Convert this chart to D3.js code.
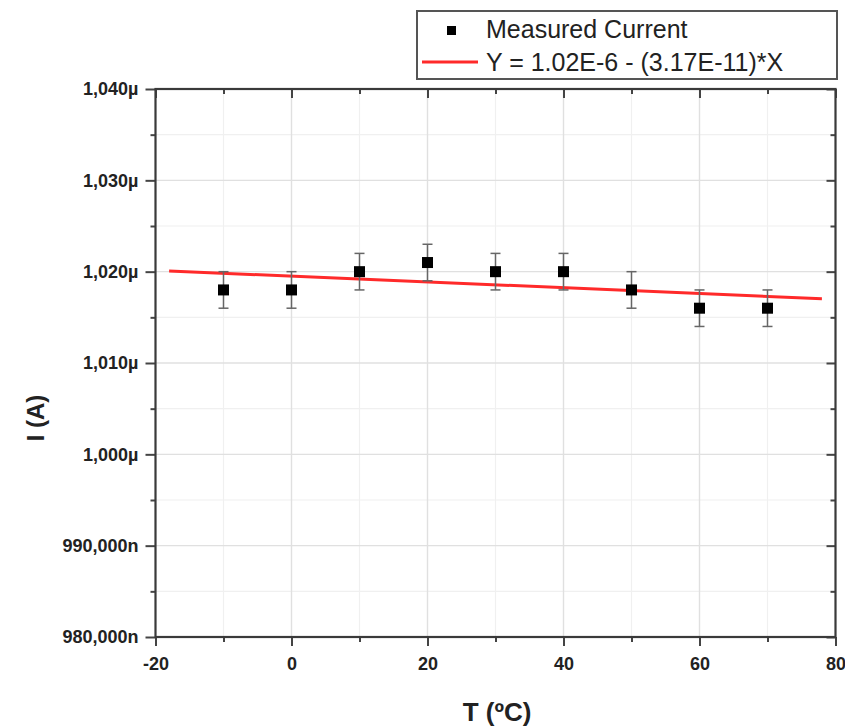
<!DOCTYPE html>
<html>
<head>
<meta charset="utf-8">
<script src="https://cdn.jsdelivr.net/npm/d3@7/dist/d3.min.js"></script>
<style>
  html, body { margin: 0; padding: 0; background: #fff; }
  svg { display: block; font-family: "Liberation Sans", Arial, sans-serif; }
</style>
</head>
<body>
<svg id="chart" width="845" height="726"></svg>
<script>
// Measured current vs temperature
const tempC = [-10, 0, 10, 20, 30, 40, 50, 60, 70];
const currentA = [1.018e-6, 1.018e-6, 1.020e-6, 1.021e-6, 1.020e-6, 1.020e-6, 1.018e-6, 1.016e-6, 1.016e-6];
const errorA = [2e-9, 2e-9, 2e-9, 2e-9, 2e-9, 2e-9, 2e-9, 2e-9, 2e-9];

// Linear fit Y = a + b*X
const fitIntercept = 1.01951e-6;
const fitSlope = -3.17e-11;
const fitRange = [-18, 78];

// Axes
const xMajor = [-20, 0, 20, 40, 60, 80];
const xMinor = [-10, 10, 30, 50, 70];
const yMajor = [0.98e-6, 0.99e-6, 1.00e-6, 1.01e-6, 1.02e-6, 1.03e-6, 1.04e-6];
const yMajorLabels = ["980,000n", "990,000n", "1,000µ", "1,010µ", "1,020µ", "1,030µ", "1,040µ"];
const yMinor = [0.985e-6, 0.995e-6, 1.005e-6, 1.015e-6, 1.025e-6, 1.035e-6];

const plot = { left: 155.5, right: 835.5, top: 89, bottom: 637 };

const svg = d3.select("#chart");
const x = d3.scaleLinear().domain([-20, 80]).range([plot.left, plot.right]);
const y = d3.scaleLinear().domain([0.98e-6, 1.04e-6]).range([plot.bottom, plot.top]);

// grid lines
const grid = svg.append("g");
grid.selectAll("line.vmin").data(xMinor).join("line")
  .attr("x1", d => x(d)).attr("x2", d => x(d))
  .attr("y1", plot.top).attr("y2", plot.bottom)
  .attr("stroke", "#f0f0f0").attr("stroke-width", 1.2);
grid.selectAll("line.hmin").data(yMinor).join("line")
  .attr("y1", d => y(d)).attr("y2", d => y(d))
  .attr("x1", plot.left).attr("x2", plot.right)
  .attr("stroke", "#f0f0f0").attr("stroke-width", 1.2);
grid.selectAll("line.vmaj").data(xMajor.slice(1, -1)).join("line")
  .attr("x1", d => x(d)).attr("x2", d => x(d))
  .attr("y1", plot.top).attr("y2", plot.bottom)
  .attr("stroke", "#e0e0e0").attr("stroke-width", 1.4);
grid.selectAll("line.hmaj").data(yMajor.slice(1, -1)).join("line")
  .attr("y1", d => y(d)).attr("y2", d => y(d))
  .attr("x1", plot.left).attr("x2", plot.right)
  .attr("stroke", "#e0e0e0").attr("stroke-width", 1.4);

function styleAxis(g) {
  g.select(".domain").remove();
  g.selectAll(".tick line").attr("stroke", "#444").attr("stroke-width", 2);
  g.selectAll(".tick text")
    .attr("fill", "#222")
    .style("font-size", "18px")
    .style("font-weight", "bold");
}

// bottom axis (outward ticks)
svg.append("g").attr("transform", `translate(0,${plot.bottom})`)
  .call(d3.axisBottom(x).tickValues(xMajor).tickSize(9).tickPadding(11).tickFormat(d => String(d)))
  .call(styleAxis);
svg.append("g").attr("transform", `translate(0,${plot.bottom})`)
  .call(d3.axisBottom(x).tickValues(xMinor).tickSize(5).tickFormat(""))
  .call(styleAxis);

// left axis (outward ticks)
svg.append("g").attr("transform", `translate(${plot.left},0)`)
  .call(d3.axisLeft(y).tickValues(yMajor).tickSize(10).tickPadding(7)
    .tickFormat((d, i) => yMajorLabels[i]))
  .call(styleAxis);
svg.append("g").attr("transform", `translate(${plot.left},0)`)
  .call(d3.axisLeft(y).tickValues(yMinor).tickSize(5).tickFormat(""))
  .call(styleAxis);

// top axis (inward ticks)
svg.append("g").attr("transform", `translate(0,${plot.top})`)
  .call(d3.axisBottom(x).tickValues(xMajor).tickSize(9).tickFormat(""))
  .call(styleAxis);
svg.append("g").attr("transform", `translate(0,${plot.top})`)
  .call(d3.axisBottom(x).tickValues(xMinor).tickSize(5).tickFormat(""))
  .call(styleAxis);

// right axis (inward ticks)
svg.append("g").attr("transform", `translate(${plot.right},0)`)
  .call(d3.axisLeft(y).tickValues(yMajor).tickSize(9).tickFormat(""))
  .call(styleAxis);
svg.append("g").attr("transform", `translate(${plot.right},0)`)
  .call(d3.axisLeft(y).tickValues(yMinor).tickSize(5).tickFormat(""))
  .call(styleAxis);

// frame
svg.append("rect")
  .attr("x", plot.left).attr("y", plot.top)
  .attr("width", plot.right - plot.left).attr("height", plot.bottom - plot.top)
  .attr("fill", "none").attr("stroke", "#3a3a3a").attr("stroke-width", 2.2);

// fit line
const fitLine = d3.line().x(d => x(d)).y(d => y(fitIntercept + fitSlope * d));
svg.append("path").datum(fitRange)
  .attr("d", fitLine)
  .attr("fill", "none").attr("stroke", "#ff2a2a").attr("stroke-width", 3);

// error bars
const pts = tempC.map((t, i) => ({ t, v: currentA[i], e: errorA[i] }));
const eb = svg.append("g").attr("stroke", "#666").attr("stroke-width", 1.5);
eb.selectAll("line.stem").data(pts).join("line")
  .attr("x1", d => x(d.t)).attr("x2", d => x(d.t))
  .attr("y1", d => y(d.v - d.e)).attr("y2", d => y(d.v + d.e));
eb.selectAll("line.capHi").data(pts).join("line")
  .attr("x1", d => x(d.t) - 5).attr("x2", d => x(d.t) + 5)
  .attr("y1", d => y(d.v + d.e)).attr("y2", d => y(d.v + d.e));
eb.selectAll("line.capLo").data(pts).join("line")
  .attr("x1", d => x(d.t) - 5).attr("x2", d => x(d.t) + 5)
  .attr("y1", d => y(d.v - d.e)).attr("y2", d => y(d.v - d.e));

// markers
const ms = 11;
svg.append("g").selectAll("rect").data(pts).join("rect")
  .attr("x", d => x(d.t) - ms / 2).attr("y", d => y(d.v) - ms / 2)
  .attr("width", ms).attr("height", ms)
  .attr("fill", "#000");

// axis titles
svg.append("text")
  .attr("x", 497).attr("y", 721)
  .attr("text-anchor", "middle")
  .attr("fill", "#222")
  .style("font-size", "26px").style("font-weight", "bold")
  .text("T (ºC)");
svg.append("text")
  .attr("transform", "translate(44,418) rotate(-90)")
  .attr("text-anchor", "middle")
  .attr("fill", "#222")
  .style("font-size", "24px").style("font-weight", "bold")
  .text("I (A)");

// legend
const fmtE = v => v.toExponential(2).toUpperCase();
const legend = svg.append("g");
legend.append("rect")
  .attr("x", 417).attr("y", 11).attr("width", 420).attr("height", 68)
  .attr("fill", "#fff").attr("stroke", "#555").attr("stroke-width", 2);
legend.append("rect")
  .attr("x", 447).attr("y", 26).attr("width", 9).attr("height", 9).attr("fill", "#000");
legend.append("text")
  .attr("x", 486).attr("y", 38)
  .attr("fill", "#222").style("font-size", "25px")
  .text("Measured Current");
legend.append("line")
  .attr("x1", 422).attr("x2", 478).attr("y1", 62).attr("y2", 62)
  .attr("stroke", "#ff2a2a").attr("stroke-width", 3);
legend.append("text")
  .attr("x", 486).attr("y", 71)
  .attr("fill", "#222").style("font-size", "25px")
  .text(`Y = ${fmtE(fitIntercept)} - (${fmtE(-fitSlope)})*X`);
</script>
</body>
</html>
